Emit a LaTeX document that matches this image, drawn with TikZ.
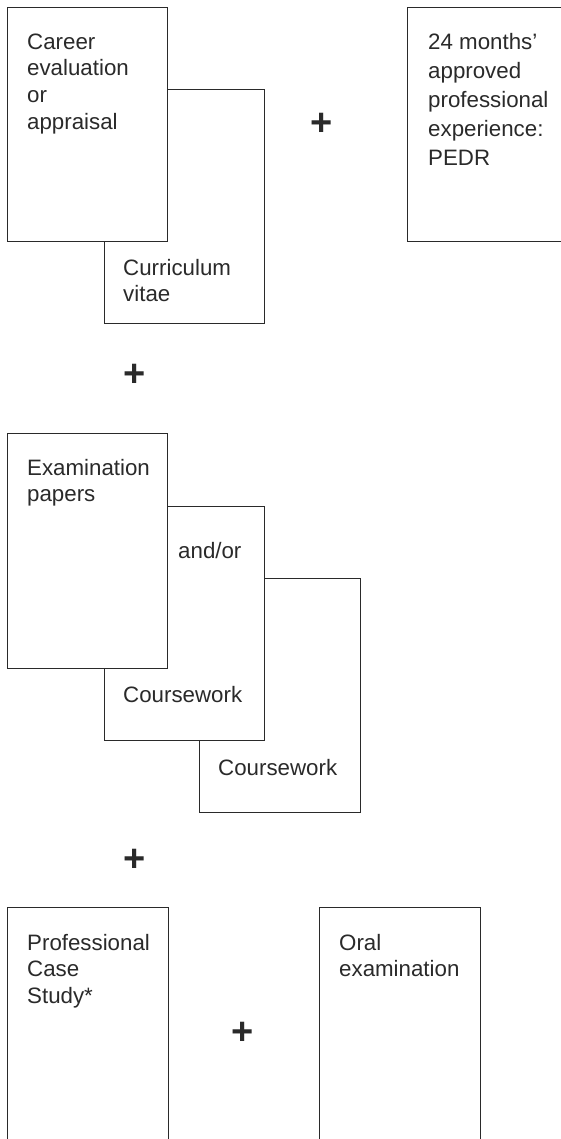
\documentclass[tikz,border=0pt]{standalone}
\usepackage{fontspec}
\setmainfont{Liberation Sans}
\definecolor{ink}{HTML}{2A2A2A}
\tikzset{
  sheet/.style={draw=ink, line width=1.1pt, fill=white, rectangle, inner sep=0pt, anchor=north west},
  label/.style={anchor=north west, inner sep=0pt, align=left, text=ink,
    font=\fontsize{22.3}{26.6}\selectfont},
  plus/.style={text=ink, inner sep=0pt, font=\fontsize{38}{38}\selectfont\bfseries}
}
\begin{document}
\begin{tikzpicture}[x=1pt,y=-1pt]
\useasboundingbox (0,0) rectangle (561,1139);
\clip (0,0) rectangle (561,1139);
% top group
\node[sheet, minimum width=160pt, minimum height=234pt] (cv) at (104,89) {};
\node[sheet, minimum width=160pt, minimum height=234pt] (career) at (7,7) {};
\node[sheet, minimum width=200pt, minimum height=234pt] (pedr) at (407,7) {};
\node[label] (careert) at (27,30.4) {\strut Career\\evaluation\\or\\appraisal};
\node[label] (cvt) at (123,256.4) {\strut Curriculum\\vitae};
\node[label, font=\fontsize{22.3}{29}\selectfont] (pedrt) at (428,28.7) {\strut 24 months’\\approved\\professional\\experience:\\PEDR};
\node[plus] (p1) at (321.5,124) {+};
\node[plus] (p2) at (135,375) {+};
% middle group
\node[sheet, minimum width=161pt, minimum height=234pt] (cw2) at (199,578) {};
\node[sheet, minimum width=160pt, minimum height=234pt] (andor) at (104,506) {};
\node[sheet, minimum width=160pt, minimum height=235pt] (exam) at (7,433) {};
\node[label] (examt) at (27,456.4) {\strut Examination\\papers};
\node[label] (andort) at (178,539.4) {\strut and/or};
\node[label] (cw1t) at (123,683.4) {\strut Coursework};
\node[label] (cw2t) at (218,756.4) {\strut Coursework};
\node[plus] (p3) at (135,860) {+};
% bottom group
\node[sheet, minimum width=161pt, minimum height=280pt] (pcs) at (7,907) {};
\node[sheet, minimum width=161pt, minimum height=280pt] (oral) at (319,907) {};
\node[label] (pcst) at (27,931.4) {\strut Professional\\Case\\Study*};
\node[label] (oralt) at (339,931.4) {\strut Oral\\examination};
\node[plus] (p4) at (243,1033) {+};
\end{tikzpicture}
\end{document}
